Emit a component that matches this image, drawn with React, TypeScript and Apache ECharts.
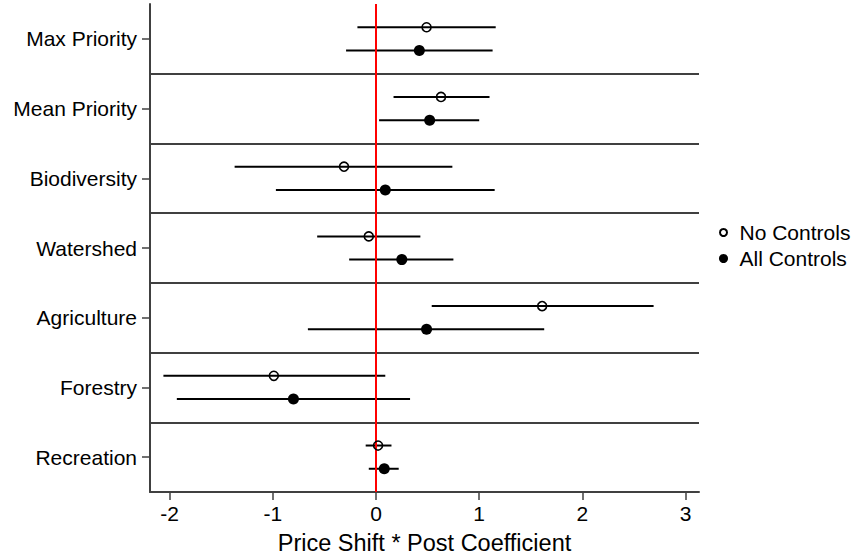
import React, { useEffect, useRef } from "react";
import * as echarts from "echarts";

const categories = [
  "Max Priority",
  "Mean Priority",
  "Biodiversity",
  "Watershed",
  "Agriculture",
  "Forestry",
  "Recreation",
];
const noCtrlEst = [0.49, 0.63, -0.31, -0.07, 1.61, -0.99, 0.02];
const noCtrlLo = [-0.18, 0.17, -1.37, -0.57, 0.54, -2.06, -0.1];
const noCtrlHi = [1.16, 1.1, 0.74, 0.43, 2.69, 0.09, 0.15];
const allCtrlEst = [0.42, 0.52, 0.09, 0.25, 0.49, -0.8, 0.08];
const allCtrlLo = [-0.29, 0.03, -0.97, -0.26, -0.66, -1.93, -0.07];
const allCtrlHi = [1.13, 1.0, 1.15, 0.75, 1.63, 0.33, 0.22];
const xTicks = [-2, -1, 0, 1, 2, 3];
const X_MIN = -2.19;
const X_MAX = 3.13;
const seriesNames = ["No Controls", "All Controls"];
const xName = "Price Shift * Post Coefficient";

const FONT = "'Liberation Sans', Arial, Helvetica, sans-serif";
const AXIS_COLOR = "#404040";

export default function App() {
  const ref = useRef<HTMLDivElement>(null);

  useEffect(() => {
    if (!ref.current) return;
    const chart = echarts.init(ref.current, undefined, { renderer: "svg" });

    // row positions on hidden value axis: group i spans [i, i+1]
    const ciData: number[][] = [];
    const openPts: number[][] = [];
    const filledPts: number[][] = [];
    categories.forEach((_, i) => {
      const yOpen = i + 1 / 3;
      const yFilled = i + 2 / 3;
      ciData.push([noCtrlLo[i], noCtrlHi[i], yOpen]);
      ciData.push([allCtrlLo[i], allCtrlHi[i], yFilled]);
      openPts.push([noCtrlEst[i], yOpen]);
      filledPts.push([allCtrlEst[i], yFilled]);
    });

    const separators = categories.slice(1).map((_, i) => ({
      yAxis: i + 1,
      lineStyle: { color: AXIS_COLOR, width: 2, type: "solid" },
    }));

    const option: any = {
      animation: false,
      textStyle: { fontFamily: FONT },
      grid: { left: 150, right: 153, top: 4, bottom: 67, containLabel: false },
      xAxis: {
        type: "value",
        min: X_MIN,
        max: X_MAX,
        axisLine: { show: true, onZero: false, lineStyle: { color: AXIS_COLOR, width: 2 } },
        axisTick: { show: true, length: 8, customValues: xTicks, lineStyle: { color: AXIS_COLOR, width: 1.5 } },
        axisLabel: { customValues: xTicks, fontSize: 21, color: "#000", fontFamily: FONT, margin: 11 },
        splitLine: { show: false },
        name: xName,
        nameLocation: "middle",
        nameGap: 39,
        nameTextStyle: { fontSize: 23.5, color: "#000", fontFamily: FONT },
      },
      yAxis: [
        {
          type: "category",
          data: categories,
          inverse: true,
          position: "left",
          axisLine: { show: true, onZero: false, lineStyle: { color: AXIS_COLOR, width: 2 } },
          axisTick: { show: true, alignWithLabel: true, length: 8, lineStyle: { color: AXIS_COLOR, width: 1.5 } },
          axisLabel: { fontSize: 21, color: "#000", fontFamily: FONT, margin: 13 },
          splitLine: { show: false },
        },
        { type: "value", min: 0, max: 7, inverse: true, show: false },
      ],
      legend: [
        {
          data: [seriesNames[0]],
          left: 719,
          top: 222,
          padding: 0,
          itemWidth: 22,
          itemHeight: 7,
          selectedMode: false,
          textStyle: { fontSize: 21, color: "#000", fontFamily: FONT },
        },
        {
          data: [seriesNames[1]],
          left: 719,
          top: 248,
          padding: 0,
          itemWidth: 22,
          itemHeight: 9,
          selectedMode: false,
          textStyle: { fontSize: 21, color: "#000", fontFamily: FONT },
        },
      ],
      series: [
        {
          type: "custom",
          xAxisIndex: 0,
          yAxisIndex: 1,
          data: ciData,
          encode: { x: [0, 1], y: 2 },
          renderItem: (params: any, api: any) => {
            const p1 = api.coord([api.value(0), api.value(2)]);
            const p2 = api.coord([api.value(1), api.value(2)]);
            return {
              type: "line",
              shape: { x1: p1[0], y1: p1[1], x2: p2[0], y2: p2[1] },
              style: { stroke: "#000", lineWidth: 2 },
            };
          },
          z: 2,
          silent: true,
          markLine: {
            silent: true,
            symbol: ["none", "none"],
            label: { show: false },
            data: [
              ...separators,
              { xAxis: 0, lineStyle: { color: "#ff0000", width: 2, type: "solid" } },
            ],
          },
        },
        {
          name: seriesNames[0],
          type: "scatter",
          xAxisIndex: 0,
          yAxisIndex: 1,
          data: openPts,
          symbol: "circle",
          symbolSize: 9,
          itemStyle: { color: "rgba(0,0,0,0)", borderColor: "#000", borderWidth: 1.6, opacity: 1 },
          z: 10,
          silent: true,
        },
        {
          name: seriesNames[1],
          type: "scatter",
          xAxisIndex: 0,
          yAxisIndex: 1,
          data: filledPts,
          symbol: "circle",
          symbolSize: 11,
          itemStyle: { color: "#000", opacity: 1 },
          z: 10,
          silent: true,
        },
      ],
    };

    chart.setOption(option);
    return () => chart.dispose();
  }, []);

  return (
    <div
      ref={ref}
      style={{ position: "fixed", left: 0, top: 0, width: 852, height: 560, background: "#fff" }}
    />
  );
}
